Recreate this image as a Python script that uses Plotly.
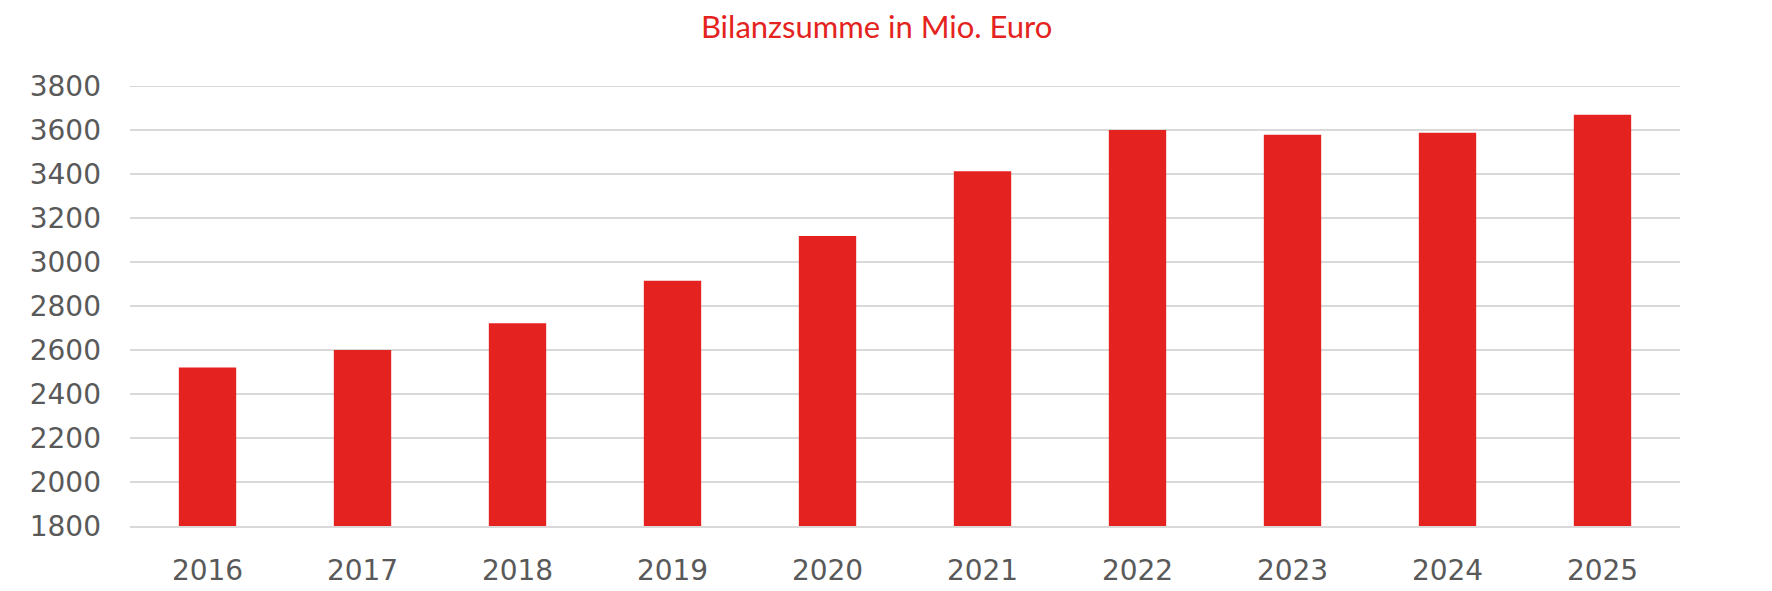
import plotly.graph_objects as go

# ===== Daten =====
jahre = ["2016", "2017", "2018", "2019", "2020", "2021", "2022", "2023", "2024", "2025"]
bilanzsumme = [2520, 2600, 2722, 2915, 3118, 3412, 3600, 3578, 3587, 3669]
y_ticks = list(range(1800, 3801, 200))

ROT = "#E42320"
GRAU_TEXT = "#595959"
GRAU_LINIE = "#D9D9D9"

fig = go.Figure(
    go.Bar(
        x=jahre,
        y=bilanzsumme,
        marker=dict(color=ROT, line=dict(width=0)),
        hovertemplate="%{x}: %{y} Mio. Euro<extra></extra>",
    )
)

# oberste Gitterlinie (plotly zeichnet sie am Rand nicht)
fig.add_shape(
    type="line",
    xref="paper", x0=0, x1=1,
    yref="y", y0=y_ticks[-1], y1=y_ticks[-1],
    line=dict(color=GRAU_LINIE, width=2),
    layer="below",
)

fig.update_layout(
    width=1772,
    height=591,
    margin=dict(l=122, r=100, t=78, b=59),
    paper_bgcolor="white",
    plot_bgcolor="white",
    bargap=0.63,
    showlegend=False,
    title=dict(
        text="Bilanzsumme in Mio. Euro",
        x=0.4817,
        xanchor="center",
        xref="paper",
        y=0.968,
        yanchor="middle",
        yref="container",
        font=dict(family="Lato", size=31, color=ROT),
    ),
    font=dict(family="DejaVu Sans", size=28, color=GRAU_TEXT),
)

fig.update_yaxes(
    range=[1800, 3800],
    tickvals=y_ticks,
    showgrid=True,
    gridcolor=GRAU_LINIE,
    gridwidth=2,
    zeroline=False,
    showline=False,
    ticks="",
    ticklabelstandoff=28,
    tickfont=dict(family="DejaVu Sans", size=28, color=GRAU_TEXT),
)

fig.update_xaxes(
    type="category",
    showgrid=False,
    showline=True,
    linecolor=GRAU_LINIE,
    linewidth=2,
    ticks="",
    ticklabelstandoff=18,
    tickfont=dict(family="DejaVu Sans", size=28, color=GRAU_TEXT),
)

fig.write_html("out.html")
